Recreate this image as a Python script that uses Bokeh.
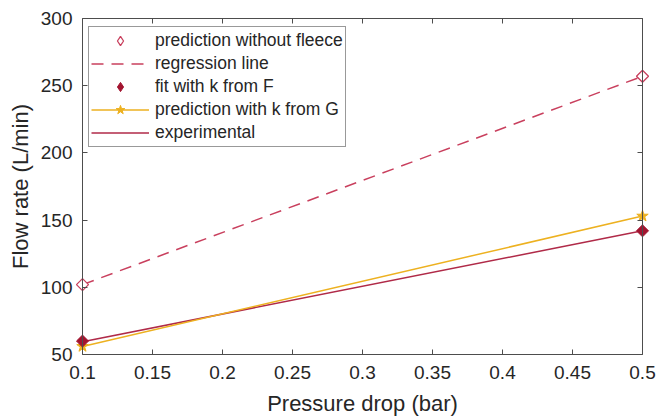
from bokeh.plotting import figure
from bokeh.models import LinearAxis, FixedTicker, Legend, LegendItem, Range1d
from bokeh.embed import file_html
from bokeh.resources import INLINE
import math

# Pressure drop (bar) and flow rates (L/min)
pressure = [0.1, 0.5]
pred_without_fleece = [102, 257]
regression = [102, 257]
fit_k_from_F = [60, 142]
pred_k_from_G = [56, 153]
experimental = [59.5, 142]

x_ticks = [0.1, 0.15, 0.2, 0.25, 0.3, 0.35, 0.4, 0.45, 0.5]
y_ticks = [50, 100, 150, 200, 250, 300]
x_lim = (0.1, 0.5)
y_lim = (50, 300)

FONT = "Liberation Sans"
AXIS_COLOR = "#4d4d4d"
TEXT_COLOR = "#262626"

# Axes box is 560 x 336 px; the frame is a little larger so markers that sit
# on the box edges are not cut off.
BOX_W, BOX_H, PAD = 560, 336, 8
dx = PAD * (x_lim[1] - x_lim[0]) / BOX_W
dy = PAD * (y_lim[1] - y_lim[0]) / BOX_H

p = figure(width=656, height=419, output_backend="svg", toolbar_location=None,
           x_range=Range1d(x_lim[0] - dx, x_lim[1] + dx),
           y_range=Range1d(y_lim[0] - dy, y_lim[1] + dy),
           min_border_left=82 - PAD, min_border_right=14 - PAD,
           min_border_top=18 - PAD, min_border_bottom=65 - PAD)
p.grid.visible = False
p.outline_line_color = None
p.background_fill_color = "white"
p.border_fill_color = "white"

def label_axis(ax, ticks, title, label_standoff, title_standoff):
    # tick labels and title only; the box is drawn by the axes below
    ax.ticker = FixedTicker(ticks=ticks)
    ax.axis_line_color = None
    ax.major_tick_line_color = None
    ax.minor_tick_line_color = None
    ax.major_tick_in = 0
    ax.major_tick_out = 0
    ax.major_label_text_font = FONT
    ax.major_label_text_color = TEXT_COLOR
    ax.major_label_text_font_size = "19px"
    ax.major_label_standoff = label_standoff
    ax.axis_label = title
    ax.axis_label_text_font = FONT
    ax.axis_label_text_color = TEXT_COLOR
    ax.axis_label_text_font_size = "22px"
    ax.axis_label_text_font_style = "normal"
    ax.axis_label_standoff = title_standoff

def box_axis(ticks, bounds, loc):
    ax = LinearAxis(ticker=FixedTicker(ticks=ticks), bounds=bounds,
                    fixed_location=loc)
    ax.axis_line_color = AXIS_COLOR
    ax.axis_line_width = 1
    ax.major_tick_line_color = AXIS_COLOR
    ax.major_tick_in = 5
    ax.major_tick_out = 0
    ax.minor_tick_line_color = None
    ax.major_label_text_font_size = "0px"
    ax.major_label_text_color = None
    ax.major_label_standoff = 0
    ax.axis_label_standoff = 0
    return ax

label_axis(p.xaxis[0], x_ticks, "Pressure drop (bar)", 3, 9)
label_axis(p.yaxis[0], y_ticks, "Flow rate (L/min)", 2, 5)

p.add_layout(box_axis(x_ticks, x_lim, y_lim[0]), "below")
p.add_layout(box_axis(y_ticks, y_lim, x_lim[0]), "left")
p.add_layout(box_axis(x_ticks, x_lim, y_lim[1]), "above")
p.add_layout(box_axis(y_ticks, y_lim, x_lim[1]), "right")

dash_color = "#c9405e"
dark_red = "#a2142f"
yellow = "#edb120"
exp_color = "#b02a48"

r_reg = p.line(pressure, regression, line_color=dash_color, line_width=1.5,
               line_dash="12 8")
r_exp = p.line(pressure, experimental, line_color=exp_color, line_width=1.5)
r_g_line = p.line(pressure, pred_k_from_G, line_color=yellow, line_width=1.5)
r_g_pts = p.scatter(pressure, pred_k_from_G, marker="star", size=12,
                    fill_color=yellow, line_color=yellow)
p.scatter(pressure, fit_k_from_F, marker="square", size=8.5,
          angle=math.pi / 4, fill_color=dark_red, line_color=dark_red)
p.scatter(pressure, pred_without_fleece, marker="square", size=8.5,
          angle=math.pi / 4, fill_color="white", line_color=dash_color,
          line_width=1.3)

# legend swatches for the diamond markers (no data, only shown in the legend)
nan = [float("nan")]
k_wo = p.scatter(nan, nan, marker="diamond", fill_color="white",
                 line_color=dash_color, line_width=1.3)
k_f = p.scatter(nan, nan, marker="diamond", fill_color=dark_red,
                line_color=dark_red)

legend = Legend(items=[
    LegendItem(label="prediction without fleece", renderers=[k_wo]),
    LegendItem(label="regression line", renderers=[r_reg]),
    LegendItem(label="fit with k from F", renderers=[k_f]),
    LegendItem(label="prediction with k from G", renderers=[r_g_line, r_g_pts]),
    LegendItem(label="experimental", renderers=[r_exp]),
], location=(6 + PAD, 215))
legend.label_text_font = FONT
legend.label_text_font_size = "17.5px"
legend.label_text_color = TEXT_COLOR
legend.border_line_color = "#333333"
legend.border_line_width = 1
legend.background_fill_alpha = 1
legend.padding = 2
legend.spacing = 0
legend.glyph_height = 23
legend.label_height = 23
legend.glyph_width = 58
legend.label_standoff = 6
legend.margin = 0
p.add_layout(legend, "center")

open("out.html", "w").write(file_html(p, INLINE))
